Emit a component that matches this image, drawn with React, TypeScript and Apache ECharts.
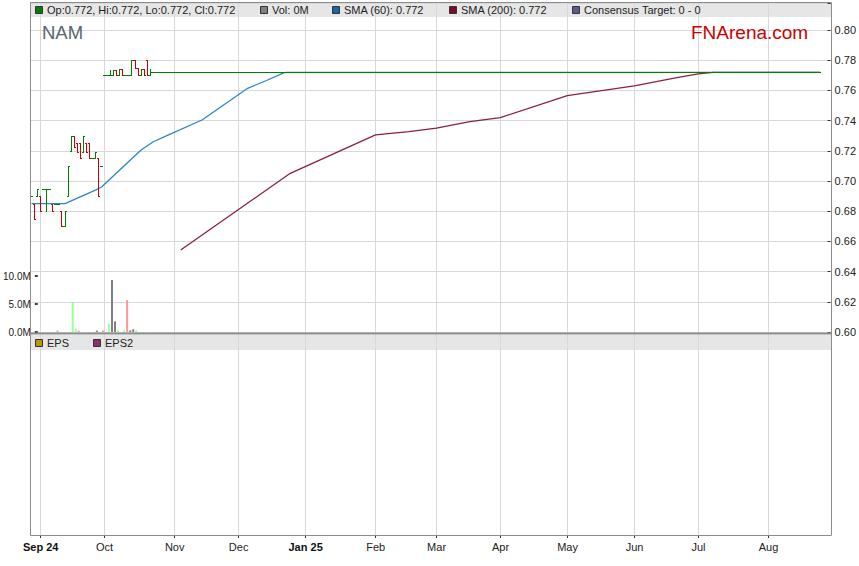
import React, { useEffect, useRef } from "react";
import * as echarts from "echarts";

// ---------- data ----------
const axisStart = "2024-08-28";
const axisEnd = "2025-08-29";

const barDates = [
  "2024-08-28", "2024-08-29", "2024-08-30", "2024-09-02", "2024-09-03", "2024-09-04", "2024-09-05", "2024-09-06",
  "2024-09-09", "2024-09-10", "2024-09-11", "2024-09-12", "2024-09-13", "2024-09-16", "2024-09-17", "2024-09-18",
  "2024-09-19", "2024-09-20", "2024-09-23", "2024-09-24", "2024-09-25", "2024-09-26", "2024-09-27", "2024-09-30",
  "2024-10-01", "2024-10-02", "2024-10-03", "2024-10-04", "2024-10-07", "2024-10-08", "2024-10-09", "2024-10-10",
  "2024-10-11", "2024-10-14", "2024-10-15", "2024-10-16", "2024-10-17", "2024-10-18", "2024-10-21", "2024-10-22",
];
const opens = [
  0.69, 0.685, 0.69, 0.69, 0.6945, 0.6945, 0.6945, 0.685, 0.685, 0.685, 0.68, 0.67, 0.69, 0.72, 0.7295, 0.725,
  0.725, 0.7195, 0.725, 0.725, 0.715, 0.715, 0.715, 0.71, 0.77, 0.77, 0.77, 0.77, 0.7735, 0.77, 0.7745, 0.77,
  0.77, 0.77, 0.78, 0.775, 0.77, 0.7745, 0.78, 0.77,
];
const highs = [
  0.69, 0.685, 0.6945, 0.69, 0.6945, 0.6945, 0.6945, 0.685, 0.685, 0.685, 0.68, 0.68, 0.71, 0.7295, 0.7295, 0.725,
  0.725, 0.7295, 0.725, 0.725, 0.715, 0.7195, 0.715, 0.71, 0.77, 0.77, 0.7735, 0.7735, 0.7735, 0.7745, 0.7745, 0.77,
  0.77, 0.78, 0.78, 0.775, 0.7745, 0.7745, 0.78, 0.7745,
];
const lows = [
  0.69, 0.675, 0.69, 0.68, 0.6945, 0.68, 0.6945, 0.68, 0.685, 0.685, 0.67, 0.67, 0.69, 0.72, 0.7225, 0.7195,
  0.715, 0.7195, 0.7195, 0.715, 0.715, 0.715, 0.69, 0.71, 0.77, 0.77, 0.77, 0.77, 0.77, 0.77, 0.77, 0.77,
  0.77, 0.77, 0.775, 0.77, 0.77, 0.77, 0.77, 0.77,
];
const closes = [
  0.69, 0.675, 0.6945, 0.68, 0.6945, 0.6945, 0.6945, 0.68, 0.685, 0.685, 0.67, 0.68, 0.71, 0.7295, 0.7225, 0.7195,
  0.715, 0.7295, 0.7195, 0.715, 0.715, 0.7195, 0.69, 0.71, 0.77, 0.77, 0.77, 0.7735, 0.77, 0.7745, 0.77, 0.77,
  0.77, 0.78, 0.775, 0.77, 0.7745, 0.77, 0.77, 0.772,
];
const volumesM = [
  0, 0, 0, 0, 0, 0, 0, 0.25, 0, 0, 0, 0, 5.3, 0.6, 0.25, 0,
  0, 0, 0, 0, 0.25, 0, 0.3, 0, 1.5, 9.3, 1.9, 0.3, 0, 0.3, 5.7, 0.3,
  0.5, 0.3, 0, 0, 0, 0, 0, 0,
];
// unchanged price from late October onwards
const flatFrom = "2024-10-23";
const flatTo = "2025-08-26";
const flatPrice = 0.772;

const sma60Dates = [
  "2024-08-28", "2024-09-12", "2024-09-26", "2024-09-30", "2024-10-17", "2024-10-23", "2024-10-30",
  "2024-11-14", "2024-11-29", "2024-12-05", "2024-12-13", "2024-12-23", "2024-12-24", "2025-08-26",
];
const sma60Values = [
  0.685, 0.685, 0.694, 0.696, 0.7205, 0.726, 0.7305, 0.7404, 0.7558, 0.7614, 0.7664, 0.7718, 0.772, 0.772,
];
const sma200Dates = [
  "2024-11-05", "2024-12-25", "2025-02-03", "2025-02-18", "2025-03-03", "2025-03-18", "2025-04-01",
  "2025-05-01", "2025-06-02", "2025-06-20", "2025-07-01", "2025-07-08", "2025-08-26",
];
const sma200Values = [
  0.6543, 0.7051, 0.7305, 0.7327, 0.735, 0.7393, 0.742, 0.7565, 0.763, 0.7685, 0.771, 0.772, 0.772,
];

const priceTicks = { min: 0.6, interval: 0.02, top: 0.8 };
const volTicks = { min: 0, max: 10, interval: 5 };
const monthNames = ["Jan", "Feb", "Mar", "Apr", "May", "Jun", "Jul", "Aug", "Sep", "Oct", "Nov", "Dec"];

// ---------- helpers ----------
function weekdays(from: string, to: string): string[] {
  const out: string[] = [];
  const d = new Date(from + "T00:00:00Z");
  const end = new Date(to + "T00:00:00Z");
  while (d <= end) {
    const wd = d.getUTCDay();
    if (wd !== 0 && wd !== 6) out.push(d.toISOString().slice(0, 10));
    d.setUTCDate(d.getUTCDate() + 1);
  }
  return out;
}

const FONT = "Liberation Sans, Arial, sans-serif";
const GREEN = "#008000";
const RED = "#cc0000";

export default function App() {
  const ref = useRef<HTMLDivElement>(null);

  useEffect(() => {
    if (!ref.current) return;
    const chart = echarts.init(ref.current, undefined, { renderer: "svg" });

    const dates = weekdays(axisStart, axisEnd);
    const idx: Record<string, number> = {};
    dates.forEach((d, i) => (idx[d] = i));
    const monthStart = dates.map((d, i) => i > 0 && d.slice(5, 7) !== dates[i - 1].slice(5, 7));
    const firstMonthIdx = monthStart.indexOf(true);

    // OHLC bars
    type Bar = [number, number, number, number, number];
    const bars: Bar[] = barDates.map((d, i) => [idx[d], opens[i], highs[i], lows[i], closes[i]]);
    for (let i = idx[flatFrom]; i <= idx[flatTo]; i++) bars.push([i, flatPrice, flatPrice, flatPrice, flatPrice]);

    const volData: any[] = dates.map(() => null);
    barDates.forEach((d, i) => {
      if (!volumesM[i]) return;
      const prev = i > 0 ? closes[i - 1] : closes[i];
      const col = closes[i] > prev ? "#99ff99" : closes[i] < prev ? "#ff9999" : "#808080";
      volData[idx[d]] = { value: volumesM[i], itemStyle: { color: col } };
    });

    const sma60 = sma60Dates.map((d, i) => [idx[d], sma60Values[i]]);
    const sma200 = sma200Dates.map((d, i) => [idx[d], sma200Values[i]]);

    // price grid spans from y=3 to y=332; 0.80 sits at y=30
    const priceGridTop = 3;
    const priceGridBottom = 332;
    const pxPerUnit = (priceGridBottom - 30) / (priceTicks.top - priceTicks.min);
    const priceMax = priceTicks.min + (priceGridBottom - priceGridTop) / pxPerUnit;

    const isMonth = (i: number) => monthStart[i];
    const split = { show: true, interval: isMonth, alignWithLabel: true, lineStyle: { color: "#d9d9d9", width: 1 } };

    const last = bars[bars.length - 1];
    const legendY = 10;
    const legendItems = [
      { x: 35, color: GREEN, text: `Op:${last[1].toFixed(3)}, Hi:${last[2].toFixed(3)}, Lo:${last[3].toFixed(3)}, Cl:${last[4].toFixed(3)}` },
      { x: 260, color: "#808080", text: "Vol: 0M" },
      { x: 332, color: "#1a64a8", text: `SMA (60): ${sma60Values[sma60Values.length - 1].toFixed(3)}` },
      { x: 449, color: "#7a0a2a", text: `SMA (200): ${sma200Values[sma200Values.length - 1].toFixed(3)}` },
      { x: 572, color: "#5c5c8c", text: "Consensus Target: 0 - 0" },
    ];
    const lowerLegend = [
      { x: 35, color: "#b8960b", text: "EPS" },
      { x: 93, color: "#8e2e6e", text: "EPS2" },
    ];
    const legendEls: any[] = [];
    const addLegend = (items: any[], y: number) =>
      items.forEach((it) => {
        legendEls.push({
          type: "rect",
          shape: { x: it.x + 0.5, y: y - 3.5, width: 7, height: 7 },
          style: { fill: it.color, stroke: "#333", lineWidth: 1 },
          z: 20,
        });
        legendEls.push({
          type: "text",
          x: it.x + 12,
          y: y,
          style: {
            text: it.text, fill: "#222", fontSize: 11, fontFamily: FONT,
            textVerticalAlign: "middle", verticalAlign: "middle", textAlign: "left", align: "left",
          },
          z: 20,
        });
      });
    addLegend(legendItems, legendY);
    addLegend(lowerLegend, 343);

    const option: any = {
      animation: false,
      backgroundColor: "#ffffff",
      textStyle: { fontFamily: FONT },
      grid: [
        { left: 30, top: priceGridTop, width: 801, height: priceGridBottom - priceGridTop },
        { left: 30, top: 276, width: 801, height: 56 },
        { left: 30, top: 333, width: 801, height: 202 },
      ],
      xAxis: [
        {
          type: "category", gridIndex: 0, data: dates, boundaryGap: true,
          axisLine: { show: false }, axisTick: { show: false }, axisLabel: { show: false },
          splitLine: split,
        },
        {
          type: "category", gridIndex: 1, data: dates, boundaryGap: true,
          axisLine: { show: false }, axisTick: { show: false }, axisLabel: { show: false },
          splitLine: { show: false },
        },
        {
          type: "category", gridIndex: 2, data: dates, boundaryGap: true,
          axisLine: { show: false },
          axisTick: { show: true, interval: isMonth, alignWithLabel: true, length: 3, lineStyle: { color: "#333" } },
          axisLabel: {
            show: true, interval: isMonth, margin: 6, fontSize: 11, color: "#222", fontFamily: FONT,
            formatter: (value: string, index: number) => {
              const m = +value.slice(5, 7) - 1;
              if (m === 0 || index === firstMonthIdx) return `{b|${monthNames[m]} ${value.slice(2, 4)}}`;
              return monthNames[m];
            },
            rich: { b: { fontWeight: "bold", fontSize: 11, color: "#111", fontFamily: FONT } },
          },
          splitLine: split,
        },
      ],
      yAxis: [
        {
          type: "value", gridIndex: 0, position: "right",
          min: priceTicks.min, max: priceMax, interval: priceTicks.interval,
          axisLine: { show: false },
          axisTick: { show: true, inside: true, length: 3, lineStyle: { color: "#333" } },
          axisLabel: {
            margin: 4, fontSize: 11, color: "#222", fontFamily: FONT,
            formatter: (v: number) => (v > priceTicks.top + 0.001 ? "" : v.toFixed(2)),
          },
          splitLine: { show: true, lineStyle: { color: "#d9d9d9", width: 1 } },
        },
        {
          type: "value", gridIndex: 1, position: "left",
          min: volTicks.min, max: volTicks.max, interval: volTicks.interval,
          axisLine: { show: false },
          axisTick: { show: true, inside: true, length: 3, lineStyle: { color: "#000", width: 1.5 } },
          axisLabel: { margin: 4, fontSize: 10, color: "#222", fontFamily: FONT, formatter: (v: number) => v.toFixed(1) + "M" },
          splitLine: { show: false },
        },
        { type: "value", gridIndex: 2, min: 0, max: 1, show: false },
      ],
      series: [
        {
          type: "bar", xAxisIndex: 1, yAxisIndex: 1, barWidth: 2, data: volData, z: 1,
        },
        {
          type: "line", xAxisIndex: 0, yAxisIndex: 0, data: sma200, showSymbol: false,
          lineStyle: { color: "#8a1f48", width: 1.3 }, z: 3,
        },
        {
          type: "line", xAxisIndex: 0, yAxisIndex: 0, data: sma60, showSymbol: false,
          lineStyle: { color: "#2f85c8", width: 1.3 }, z: 3,
        },
        {
          type: "custom", xAxisIndex: 0, yAxisIndex: 0, data: bars, z: 4,
          encode: { x: 0, y: [1, 2, 3, 4] },
          renderItem: (params: any, api: any) => {
            const i = api.value(0);
            const o = api.value(1), h = api.value(2), l = api.value(3), c = api.value(4);
            const pO = api.coord([i, o]);
            const pH = api.coord([i, h]);
            const pL = api.coord([i, l]);
            const pC = api.coord([i, c]);
            const half = api.size([1, 0])[0] / 2;
            const cx = pO[0];
            const vx = Math.floor(cx) + 0.5;
            const xl = Math.round(cx - half);
            const xr = Math.round(cx + half);
            const color = c >= o ? GREEN : RED;
            const snap = (y: number) => Math.round(y) + 0.5;
            const children: any[] = [
              { type: "line", shape: { x1: xl, y1: snap(pO[1]), x2: vx + 0.5, y2: snap(pO[1]) }, style: { stroke: color, lineWidth: 1 } },
              { type: "line", shape: { x1: vx - 0.5, y1: snap(pC[1]), x2: xr, y2: snap(pC[1]) }, style: { stroke: color, lineWidth: 1 } },
            ];
            if (Math.abs(pH[1] - pL[1]) > 0.5) {
              children.push({ type: "line", shape: { x1: vx, y1: snap(pH[1]) - 0.5, x2: vx, y2: snap(pL[1]) + 0.5 }, style: { stroke: color, lineWidth: 1 } });
            }
            return { type: "group", children };
          },
        },
      ],
      graphic: [
        { type: "rect", shape: { x: 30, y: 3, width: 801, height: 14 }, style: { fill: "#e6e6e6" }, z: -10, silent: true },
        { type: "rect", shape: { x: 30, y: 335, width: 801, height: 15 }, style: { fill: "#e6e6e6" }, z: -10, silent: true },
        { type: "rect", shape: { x: 30.5, y: 2.5, width: 801, height: 533 }, style: { fill: "none", stroke: "#8c8c8c", lineWidth: 1 }, z: 30, silent: true },
        { type: "line", shape: { x1: 30, y1: 333.5, x2: 831, y2: 333.5 }, style: { stroke: "#8c8c8c", lineWidth: 2 }, z: 30, silent: true },
        {
          type: "text", x: 42, y: 32,
          style: { text: "NAM", fill: "#5a6670", fontSize: 18.5, fontFamily: FONT, textVerticalAlign: "middle", verticalAlign: "middle" },
          z: 20,
        },
        {
          type: "text", x: 691, y: 32,
          style: { text: "FNArena.com", fill: "#cc0000", fontSize: 19, fontFamily: FONT, textVerticalAlign: "middle", verticalAlign: "middle" },
          z: 20,
        },
        ...legendEls,
      ],
    };

    chart.setOption(option);
    return () => chart.dispose();
  }, []);

  return (
    <div
      ref={ref}
      style={{ position: "fixed", left: 0, top: 0, width: 859, height: 566, background: "#fff" }}
    />
  );
}
